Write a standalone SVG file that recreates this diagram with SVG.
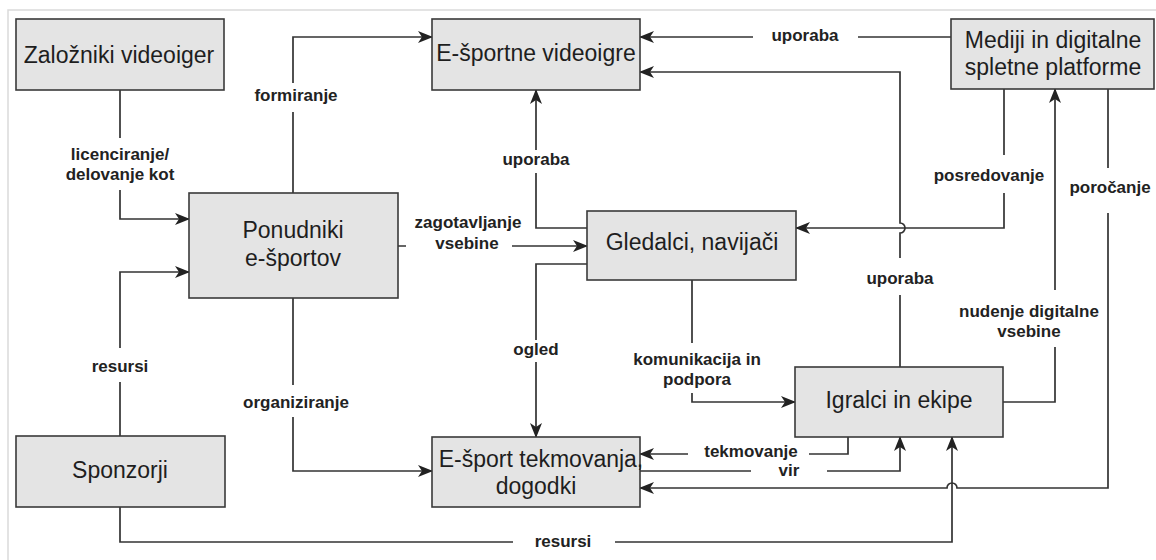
<svg xmlns="http://www.w3.org/2000/svg" width="1156" height="560" viewBox="0 0 1156 560">
<defs>
<style>
.node rect{fill:#e4e4e4;stroke:#3a3a3a;stroke-width:1.6}
.node text{font-family:"Liberation Sans",Arial,sans-serif;font-size:23px;fill:#1e1e1e;text-anchor:middle}
.conn path{fill:none;stroke:#333;stroke-width:1.7}
.lbl rect{fill:#fff;stroke:none}
.lbl text{font-family:"Liberation Sans",Arial,sans-serif;font-size:17px;font-weight:bold;fill:#222;text-anchor:middle}
</style>
<marker id="arr" viewBox="0 0 15 12" refX="14" refY="6" markerWidth="15" markerHeight="12" markerUnits="userSpaceOnUse" orient="auto">
<path d="M0,0 L15,6 L0,12 L4,6 z" fill="#222"/>
</marker>
</defs>
<rect x="0" y="0" width="1156" height="560" fill="#fff"/>
<path d="M8,560 V10 H1156" fill="none" stroke="#dadada" stroke-width="1.5"/>

<g id="connectors" class="conn">
<path d="M120,90 V219 H189" marker-end="url(#arr)"/>
<path d="M293,193 V37 H432" marker-end="url(#arr)"/>
<path d="M398,246 H587" marker-end="url(#arr)"/>
<path d="M587,228 H536 V90" marker-end="url(#arr)"/>
<path d="M587,264 H536 V437" marker-end="url(#arr)"/>
<path d="M692,280 V402 H795" marker-end="url(#arr)"/>
<path d="M951,37 H640" marker-end="url(#arr)"/>
<path d="M900,367 V233 A5,5 0 0 0 900,223 V72 H640" marker-end="url(#arr)"/>
<path d="M1004,89 V228 H796" marker-end="url(#arr)"/>
<path d="M1003,402 H1055 V89" marker-end="url(#arr)"/>
<path d="M1108,89 V488 H957 A5,5 0 0 0 947,488 H640" marker-end="url(#arr)"/>
<path d="M848,437 V454 H640" marker-end="url(#arr)"/>
<path d="M640,471 H900 V437" marker-end="url(#arr)"/>
<path d="M120,436 V272 H189" marker-end="url(#arr)"/>
<path d="M120,507 V542 H952 V437" marker-end="url(#arr)"/>
<path d="M293,298 V471 H432" marker-end="url(#arr)"/>
</g>

<g id="labels" class="lbl">
<rect x="62" y="138" width="116" height="52"/>
<text x="120" y="160">licenciranje/</text>
<text x="120" y="180">delovanje kot</text>
<rect x="248" y="83" width="96" height="29"/>
<text x="296" y="101">formiranje</text>
<rect x="498" y="150" width="76" height="23"/>
<text x="536" y="165">uporaba</text>
<rect x="753" y="30" width="105" height="14"/>
<text x="805" y="41">uporaba</text>
<rect x="928" y="155" width="122" height="38"/>
<text x="989" y="181">posredovanje</text>
<rect x="1064" y="168" width="90" height="45"/>
<text x="1110" y="193">poročanje</text>
<rect x="406" y="210" width="106" height="44"/>
<text x="468" y="228">zagotavljanje</text>
<text x="467" y="249">vsebine</text>
<rect x="508" y="340" width="56" height="22"/>
<text x="536" y="355">ogled</text>
<rect x="628" y="343" width="138" height="50"/>
<text x="697" y="365">komunikacija in</text>
<text x="697" y="385">podpora</text>
<rect x="860" y="258" width="80" height="37"/>
<text x="900" y="284">uporaba</text>
<rect x="952" y="290" width="154" height="57"/>
<text x="1029" y="317">nudenje digitalne</text>
<text x="1029" y="337">vsebine</text>
<rect x="688" y="445" width="121" height="16"/>
<text x="751" y="457">tekmovanje</text>
<rect x="751" y="463" width="76" height="16"/>
<text x="789" y="476">vir</text>
<rect x="78" y="348" width="84" height="34"/>
<text x="120" y="372">resursi</text>
<rect x="238" y="385" width="116" height="32"/>
<text x="296" y="408">organiziranje</text>
<rect x="513" y="530" width="102" height="22"/>
<text x="563" y="547">resursi</text>
</g>

<g id="zalozniki" class="node">
<rect x="16" y="19" width="208" height="71"/>
<text x="119" y="63">Založniki videoiger</text>
</g>
<g id="esportne-videoigre" class="node">
<rect x="432" y="19" width="208" height="71"/>
<text x="536" y="61">E-športne videoigre</text>
</g>
<g id="mediji" class="node">
<rect x="951" y="19" width="203" height="70"/>
<text x="1053" y="48">Mediji in digitalne</text>
<text x="1053" y="75">spletne platforme</text>
</g>
<g id="ponudniki" class="node">
<rect x="189" y="193" width="209" height="105"/>
<text x="293" y="238">Ponudniki</text>
<text x="293" y="266">e-športov</text>
</g>
<g id="gledalci" class="node">
<rect x="587" y="211" width="209" height="69"/>
<text x="692" y="250">Gledalci, navijači</text>
</g>
<g id="igralci" class="node">
<rect x="795" y="367" width="208" height="70"/>
<text x="899" y="408">Igralci in ekipe</text>
</g>
<g id="tekmovanja" class="node">
<rect x="432" y="437" width="208" height="70"/>
<text x="541" y="467">E-šport tekmovanja,</text>
<text x="536" y="494">dogodki</text>
</g>
<g id="sponzorji" class="node">
<rect x="16" y="436" width="209" height="71"/>
<text x="120" y="478">Sponzorji</text>
</g>
</svg>
